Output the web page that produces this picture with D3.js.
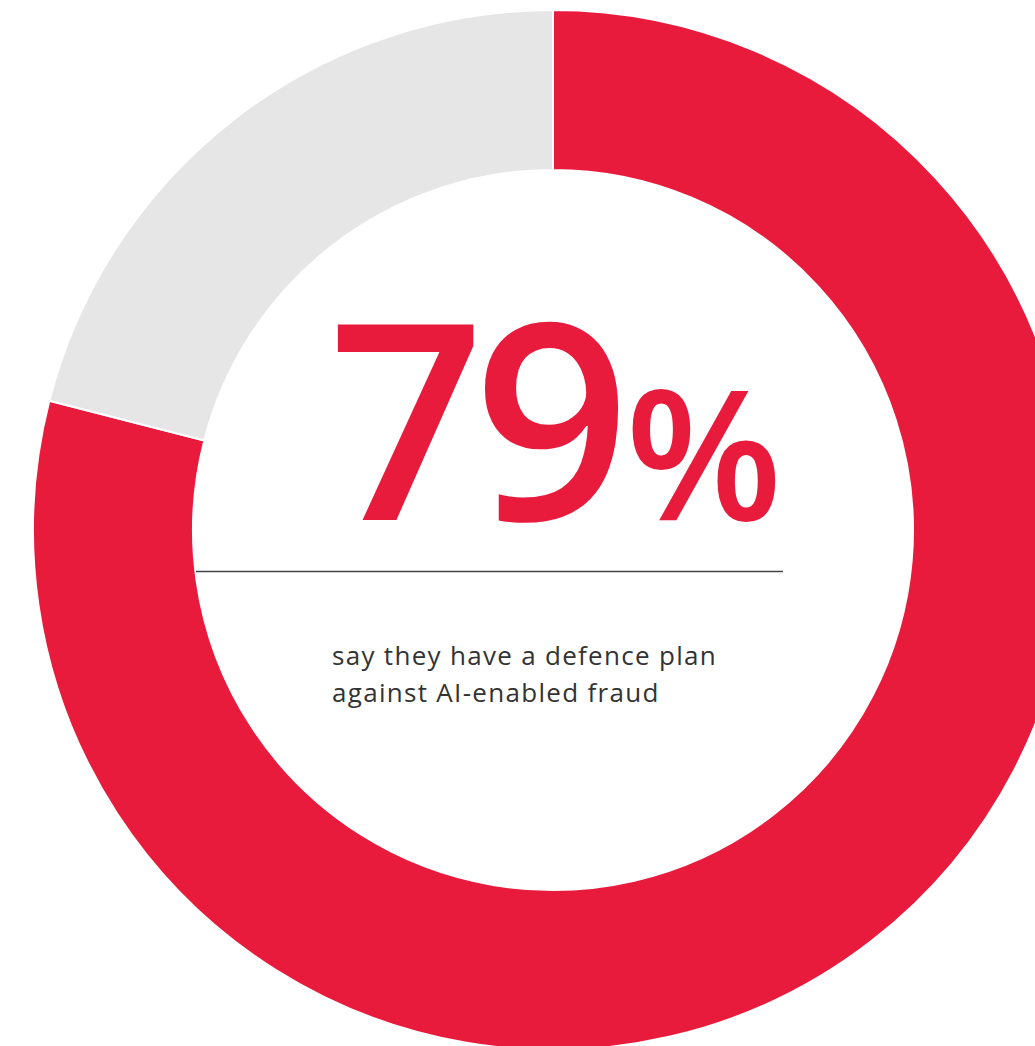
<!DOCTYPE html>
<html>
<head>
<meta charset="utf-8">
<script src="https://cdn.jsdelivr.net/npm/d3@7"></script>
<style>
  html, body { margin: 0; padding: 0; background: #ffffff; }
  svg { display: block; }
</style>
</head>
<body>
<svg id="chart" width="1035" height="1046"></svg>
<script>
const categories = ["Have a defence plan", "No defence plan"];
const values = [79, 21];
const colors = ["#e81b3d", "#e6e6e6"];
const headline = "79";
const headlineUnit = "%";
const captionLines = ["say they have a defence plan", "against AI-enabled fraud"];

const svg = d3.select("#chart");
const cx = 553, cy = 530;
const outerR = 520, innerR = 360;

const data = categories.map((c, i) => ({ category: c, value: values[i] }));
const pie = d3.pie().value(d => d.value).sort(null).startAngle(0).endAngle(2 * Math.PI);
const arc = d3.arc().innerRadius(innerR).outerRadius(outerR);
const color = d3.scaleOrdinal().domain(categories).range(colors);

const g = svg.append("g").attr("transform", `translate(${cx},${cy})`);
g.selectAll("path")
  .data(pie(data))
  .join("path")
  .attr("d", arc)
  .attr("fill", d => color(d.data.category))
  .attr("stroke", "#ffffff")
  .attr("stroke-width", 2);

// headline
const t = svg.append("text")
  .attr("x", 328)
  .attr("y", 520)
  .attr("fill", "#e81b3d")
  .style("font-family", "'Open Sans', sans-serif")
  .style("font-weight", 600);
t.append("tspan").style("font-size", "274px").attr("letter-spacing", "-11px").text(headline);
t.append("tspan").style("font-size", "182px").attr("dx", "6").text(headlineUnit);

// divider
svg.append("line")
  .attr("x1", 196).attr("x2", 783)
  .attr("y1", 571.5).attr("y2", 571.5)
  .attr("stroke", "#444444")
  .attr("stroke-width", 1.5);

// caption
svg.append("g").selectAll("text")
  .data(captionLines)
  .join("text")
  .attr("x", 332)
  .attr("y", (d, i) => 665 + i * 37)
  .attr("fill", "#333333")
  .attr("letter-spacing", "1.3px")
  .style("font-family", "'Open Sans', sans-serif")
  .style("font-size", "26px")
  .text(d => d);
</script>
</body>
</html>
